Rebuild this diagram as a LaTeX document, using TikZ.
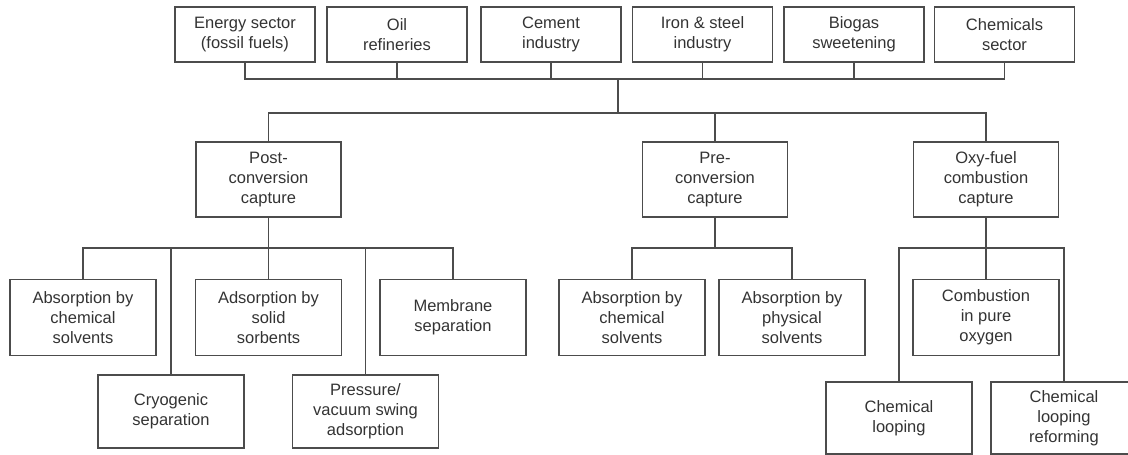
\documentclass[tikz,border=0pt]{standalone}
\usepackage{fontspec}
\setmainfont{Liberation Sans}
\usepackage{xcolor}

\begin{document}
\begin{tikzpicture}[x=1pt, y=-1pt,
        box/.style={rectangle, draw=black!70, line width=1.4pt, text=black!80, align=center,
                    inner sep=2pt, font=\fontsize{16.5}{20}\selectfont},
        src/.style={box, minimum width=140, minimum height=55},
        grp/.style={box, minimum width=145, minimum height=75},
        leaf/.style={box, minimum width=146, minimum height=76},
        link/.style={draw=black!70, line width=1.4pt}]
                \useasboundingbox (0,0) rectangle (1128,455);

                % Nodes
                \node[src] (energy) at (245, 34.5) {Energy sector\\(fossil fuels)};   % Sources
                \node[src] (oil) at (397, 34.5) {Oil\\refineries};
                \node[src] (cement) at (551, 34.5) {Cement\\industry};
                \node[src] (iron) at (702.5, 34.5) {Iron \& steel\\industry};
                \node[src] (biogas) at (854, 34.5) {Biogas\\sweetening};
                \node[src] (chemsec) at (1004.5, 34.5) {Chemicals\\sector};

                \node[grp] (post) at (268.5, 179.5) {Post-\\conversion\\capture};     % Routes
                \node[grp] (pre) at (715, 179.5) {Pre-\\conversion\\capture};
                \node[grp] (oxy) at (986, 179.5) {Oxy-fuel\\combustion\\capture};

                \node[leaf] (abschem) at (83, 317.5) {Absorption by\\chemical\\solvents}; % Post
                \node[leaf] (adsorb) at (268.5, 317.5) {Adsorption by\\solid\\sorbents};
                \node[leaf] (membrane) at (453, 317.5) {Membrane\\separation};
                \node[leaf, minimum height=73] (cryo) at (171, 411.5) {Cryogenic\\separation};
                \node[leaf, minimum height=73] (psa) at (365.5, 411.5) {Pressure/\\vacuum swing\\adsorption};

                \node[leaf] (prechem) at (632, 317.5) {Absorption by\\chemical\\solvents}; % Pre
                \node[leaf] (prephys) at (792, 317.5) {Absorption by\\physical\\solvents};

                \node[leaf] (combust) at (986, 317.5) {Combustion\\in pure\\oxygen};   % Oxy-fuel
                \node[leaf, minimum height=72] (loop) at (899, 418) {Chemical\\looping};
                \node[leaf, minimum height=72] (reform) at (1064, 418) {Chemical\\looping\\reforming};

                % Bus points
                \coordinate (topbus) at (618, 79);
                \coordinate (midbus) at (618, 113);
                \coordinate (postbus) at (268.5, 248);
                \coordinate (prebus) at (715, 248);
                \coordinate (oxybus) at (986, 248);

                % Edges for sources
                \draw[link] (energy.south) |- (topbus) -| (chemsec.south);
                \draw[link] (oil.south) -- (oil.south |- topbus);
                \draw[link] (cement.south) -- (cement.south |- topbus);
                \draw[link] (iron.south) -- (iron.south |- topbus);
                \draw[link] (biogas.south) -- (biogas.south |- topbus);
                \draw[link] (topbus) -- (midbus);

                % Edges for routes
                \draw[link] (post.north) |- (midbus) -| (oxy.north);
                \draw[link] (pre.north) -- (pre.north |- midbus);

                % Edges for post-conversion
                \draw[link] (post.south) -- (postbus);
                \draw[link] (abschem.north) |- (postbus) -| (membrane.north);
                \draw[link] (adsorb.north) -- (postbus);
                \draw[link] (cryo.north) -- (cryo.north |- postbus);
                \draw[link] (psa.north) -- (psa.north |- postbus);

                % Edges for pre-conversion
                \draw[link] (pre.south) -- (prebus);
                \draw[link] (prechem.north) |- (prebus) -| (prephys.north);

                % Edges for oxy-fuel
                \draw[link] (oxy.south) -- (oxybus);
                \draw[link] (loop.north) |- (oxybus) -| (reform.north);
                \draw[link] (combust.north) -- (oxybus);
            \end{tikzpicture}
\end{document}
